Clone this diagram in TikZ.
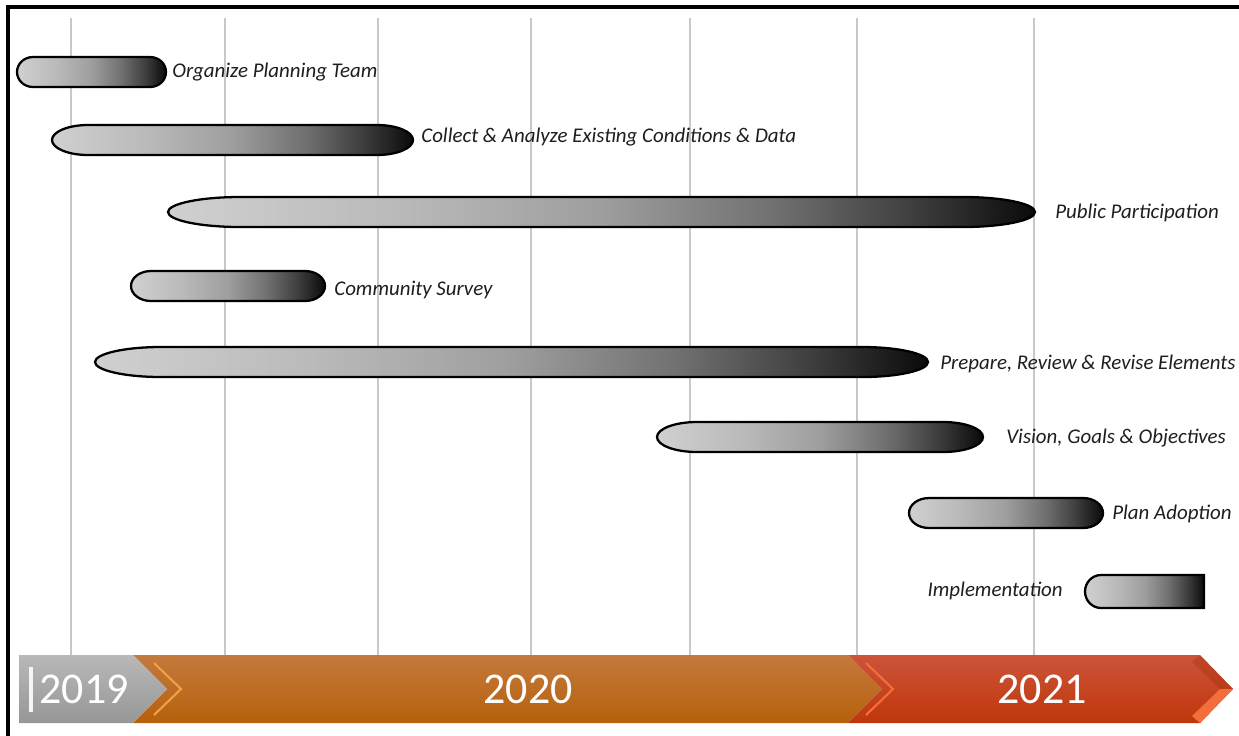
\documentclass[tikz,border=0pt]{standalone}
\usepackage{fontspec}
\setmainfont{Carlito}

\definecolor{gridgray}{RGB}{200,200,200}
\definecolor{barlight}{RGB}{208,208,208}
\definecolor{barmidA}{RGB}{186,186,186}
\definecolor{barmidB}{RGB}{158,158,158}
\definecolor{barmidC}{RGB}{112,112,112}
\definecolor{bardark}{RGB}{62,62,62}
\definecolor{barend}{RGB}{10,10,10}
\definecolor{labelgray}{RGB}{30,30,30}
\definecolor{yeargrayT}{RGB}{184,184,184}
\definecolor{yeargrayB}{RGB}{150,150,150}
\definecolor{orangeT}{RGB}{196,122,62}
\definecolor{orangeM}{RGB}{194,108,18}
\definecolor{orangeB}{RGB}{182,96,10}
\definecolor{orangeHi}{RGB}{240,160,70}
\definecolor{redT}{RGB}{204,84,58}
\definecolor{redM}{RGB}{204,60,16}
\definecolor{redB}{RGB}{192,54,10}
\definecolor{redHi}{RGB}{244,110,60}

% light on the left, black at the rounded right end
\pgfdeclarehorizontalshading{barfade}{100bp}{color(0bp)=(barlight); color(25bp)=(barlight);
  color(38bp)=(barmidA); color(50bp)=(barmidB); color(60bp)=(barmidC);
  color(68bp)=(bardark); color(75bp)=(barend); color(100bp)=(barend)}

\tikzset{
  taskbar/.style={draw=black, line width=1.3pt, shading=barfade},
  tasklabel/.style={font=\fontsize{11.9}{14}\selectfont\itshape, text=labelgray, inner sep=0pt},
  gridline/.style={draw=gridgray, line width=0.7pt},
  yearlabel/.style={font=\fontsize{25}{28}\selectfont, text=white, inner sep=0pt},
  bevel/.style={line width=1.2pt, line join=miter},
}

% capsule from x=#1 to x=#2 around y=#3, end caps #4 wide
\newcommand\taskbar[4]{%
  \draw[taskbar] (#1+#4,#3+15) -- (#2-#4,#3+15)
    arc[start angle=90, end angle=-90, x radius=#4, y radius=15]
    -- (#1+#4,#3-15)
    arc[start angle=270, end angle=90, x radius=#4, y radius=15] -- cycle;}

\begin{document}
\begin{tikzpicture}[x=0.02cm, y=-0.02cm]
  \useasboundingbox (0,0) rectangle (1239,735);
  \fill[white] (0,0) rectangle (1239,735);

  % month lines
  \foreach \gx in {71,225,378,531,690,857,1034}
    \draw[gridline] (\gx,18) -- (\gx,655);

  % tasks
  \taskbar{17}{166}{72}{16}
  \node[tasklabel, right] (organize) at (172,72) {Organize Planning Team};

  \taskbar{52}{413}{140}{36}
  \node[tasklabel, right] (collect) at (421,137) {Collect \& Analyze Existing Conditions \& Data};

  \taskbar{168}{1035}{212}{72}
  \node[tasklabel, right] (public) at (1055,213) {Public Participation};

  \taskbar{131}{325}{286}{20}
  \node[tasklabel, right] (survey) at (334,290) {Community Survey};

  \taskbar{95}{928}{362}{66}
  \node[tasklabel, right] (prepare) at (940,364) {Prepare, Review \& Revise Elements};

  \taskbar{657}{983}{437}{40}
  \node[tasklabel, right] (vision) at (1006,438) {Vision, Goals \& Objectives};

  \taskbar{909}{1103}{513}{20}
  \node[tasklabel, right] (adoption) at (1112,514) {Plan Adoption};

  % last one runs off the chart, square end
  \draw[taskbar] (1101,575) -- (1204,575) -- (1204,608) -- (1101,608)
    arc[start angle=90, end angle=270, x radius=16, y radius=16.5] -- cycle;
  \node[tasklabel, left] (implement) at (1063,591) {Implementation};

  % years
  \shade[top color=orangeT, middle color=orangeM, bottom color=orangeB]
    (133,655) -- (848,655) -- (882,689) -- (848,723) -- (133,723) -- (167,689) -- cycle;
  \draw[bevel, orangeHi] (154,663) -- (181,689) -- (154,715);

  \shade[top color=yeargrayT, bottom color=yeargrayB]
    (19,655) -- (133,655) -- (167,689) -- (133,723) -- (19,723) -- cycle;
  \fill[white!92!gray] (29,667) rectangle (33,712);

  \shade[top color=redT, middle color=redM, bottom color=redB]
    (848,655) -- (1200,655) -- (1233,689) -- (1200,723) -- (848,723) -- (882,689) -- cycle;
  \draw[bevel, redHi] (866,663) -- (893,689) -- (866,715);
  \fill[redB!85!black, opacity=0.35] (1200,655) -- (1233,689) -- (1220,689) -- (1192,662) -- cycle;
  \fill[redHi] (1233,689) -- (1200,723) -- (1192,716) -- (1220,689) -- cycle;

  \node[yearlabel] (y2019) at (84,689) {2019};
  \node[yearlabel] (y2020) at (528,689) {2020};
  \node[yearlabel] (y2021) at (1042,689) {2021};

  % frame
  \draw[line width=1.8pt] (8,7) rectangle (1250,745);
\end{tikzpicture}
\end{document}
